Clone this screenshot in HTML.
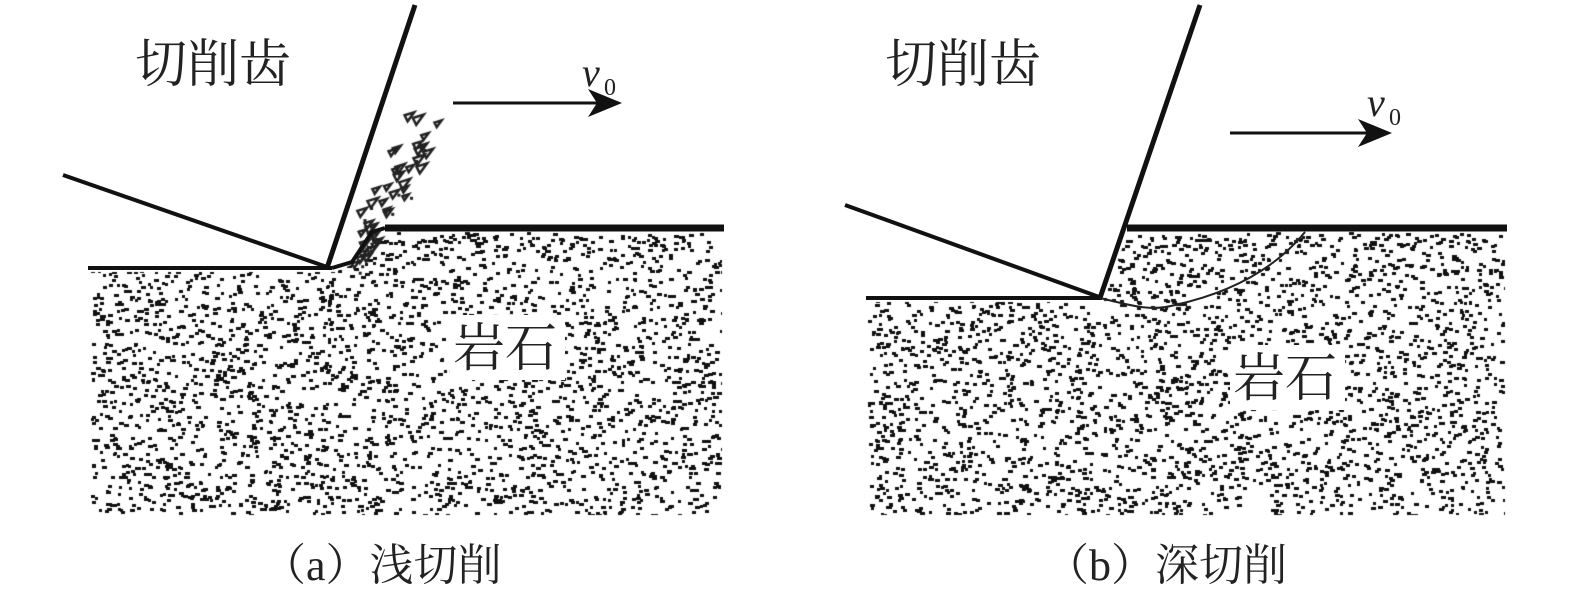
<!DOCTYPE html>
<html><head><meta charset="utf-8"><style>
html,body{margin:0;padding:0;background:#fff;}
#w{position:relative;width:1575px;height:600px;overflow:hidden;}
canvas{position:absolute;left:0;top:0;}
svg{position:absolute;left:0;top:0;}
.t{font-family:"Liberation Serif","Noto Serif CJK SC",serif;fill:#222;}
</style></head><body><div id="w">
<canvas id="c" width="1575" height="600"></canvas>
<svg width="1575" height="600" viewBox="0 0 1575 600">
<rect x="450" y="315" width="115" height="65" fill="#fff"/>
<line x1="88" y1="268" x2="332" y2="268" stroke="#111" stroke-width="4"/>
<path d="M332,268 L352,262 L372,232 L385,228" fill="none" stroke="#111" stroke-width="4"/>
<line x1="385" y1="228" x2="724" y2="228" stroke="#111" stroke-width="7"/>
<line x1="63" y1="175" x2="330" y2="268" stroke="#111" stroke-width="4"/>
<line x1="327" y1="268" x2="415" y2="5" stroke="#111" stroke-width="5"/>
<line x1="453" y1="103" x2="605" y2="103" stroke="#111" stroke-width="3"/>
<polygon points="622,103 588,89 597,103 588,117" fill="#111"/>
<text class="t" x="135" y="82" font-size="52">切削齿</text>
<text class="t" x="582" y="86" font-size="40" font-style="italic">v</text>
<text class="t" x="604" y="95" font-size="24">0</text>
<text class="t" x="453" y="366" font-size="52">岩石</text>
<text class="t" x="262" y="580" font-size="44">（a）浅切削</text>
<rect x="1230" y="345" width="115" height="65" fill="#fff"/>
<line x1="866" y1="298" x2="1102" y2="298" stroke="#111" stroke-width="4"/>
<line x1="1127" y1="228" x2="1507" y2="228" stroke="#111" stroke-width="7"/>
<line x1="845" y1="205" x2="1102" y2="298" stroke="#111" stroke-width="4"/>
<line x1="1100" y1="298" x2="1200" y2="5" stroke="#111" stroke-width="5"/>
<path d="M1100,298 C1130,305 1150,312 1175,305 C1220,295 1270,275 1305,232" fill="none" stroke="#222" stroke-width="2"/>
<line x1="1230" y1="133" x2="1375" y2="133" stroke="#111" stroke-width="3"/>
<polygon points="1392,133 1358,119 1367,133 1358,147" fill="#111"/>
<text class="t" x="885" y="82" font-size="52">切削齿</text>
<text class="t" x="1367" y="116" font-size="40" font-style="italic">v</text>
<text class="t" x="1389" y="125" font-size="24">0</text>
<text class="t" x="1233" y="396" font-size="52">岩石</text>
<text class="t" x="1045" y="580" font-size="44">（b）深切削</text>
</svg>
</div>
<script>
var c=document.getElementById('c').getContext('2d');
var s=12345;function r(){s=(s*1103515245+12345)%2147483648;return s/2147483648;}
c.fillStyle='#111';
function fill(poly,n){
 var minx=1e9,maxx=-1e9,miny=1e9,maxy=-1e9;
 poly.forEach(function(p){minx=Math.min(minx,p[0]);maxx=Math.max(maxx,p[0]);miny=Math.min(miny,p[1]);maxy=Math.max(maxy,p[1]);});
 c.save();c.beginPath();poly.forEach(function(p,i){i?c.lineTo(p[0],p[1]):c.moveTo(p[0],p[1]);});c.closePath();c.clip();
 var cnt=(maxx-minx)*(maxy-miny)/n;
 for(var i=0;i<cnt;i++){var x=minx+r()*(maxx-minx),y=miny+r()*(maxy-miny);c.fillRect(Math.round(x),Math.round(y),3+Math.round(r()*2),3);}
 c.restore();
}
fill([[90,272],[335,272],[358,262],[375,232],[722,232],[722,515],[90,515]],60);
fill([[868,302],[1103,302],[1128,232],[1505,232],[1505,515],[868,515]],60);
c.strokeStyle='#222';c.lineWidth=2.5;
for(var i=0;i<40;i++){var t=r();var y=115+t*150;var xl=330+(268-y)*(85/263)+8;var w=(y<230?35+(230-y)*0.2:28);var x=xl+r()*w;var sz=4+r()*3;
 c.beginPath();c.moveTo(x,y);c.lineTo(x+sz*1.6,y-sz*0.5);c.lineTo(x+sz*0.5,y+sz);c.closePath();c.stroke();
 if(r()<0.4){c.fillStyle='#222';c.fillRect(x+r()*10,y+r()*10,3,3);}}
</script>
</body></html>
